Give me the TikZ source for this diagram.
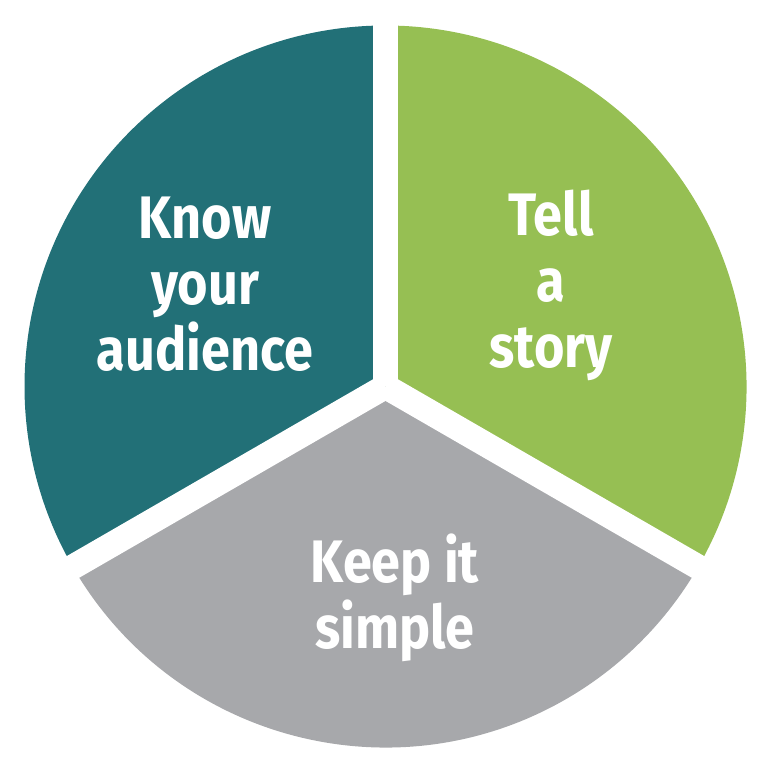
\documentclass[tikz,border=0pt]{standalone}
\usepackage{fontspec}
\setmainfont{Fira Sans}[FakeStretch=0.87]
\usetikzlibrary{calc}
\definecolor{PieTeal}{HTML}{227077}
\definecolor{PieGreen}{HTML}{96BF53}
\definecolor{PieGray}{HTML}{A7A8AB}

\begin{document}
\begin{tikzpicture}[x=1pt, y=1pt,
  label/.style={text=white, align=center, font=\bfseries\fontsize{60}{66}\selectfont},
  gap/.style={white, line width=25pt}
]
\useasboundingbox (0,0) rectangle (771,771);
\coordinate (o) at (385.5,384.5);
% sectors
\fill[PieTeal] (o) -- ++(90:361) arc[start angle=90, end angle=210, radius=361] -- cycle;
\fill[PieGray] (o) -- ++(210:361) arc[start angle=210, end angle=330, radius=361] -- cycle;
\fill[PieGreen] (o) -- ++(330:361) arc[start angle=-30, end angle=90, radius=361] -- cycle;
% white gaps
\coordinate (g1) at ($(o)+(90:380)$);
\coordinate (g2) at ($(o)+(210:380)$);
\coordinate (g3) at ($(o)+(330:380)$);
\draw[gap] (o) -- (g1);
\draw[gap] (o) -- (g2);
\draw[gap] (o) -- (g3);
% labels
\node[label] (know) at (205,487) {Know\\your\\audience};
\node[label] (tell) at (551,486) {Tell\\a\\story};
\node[label] (keep) at (395,173) {Keep it\\simple};
\end{tikzpicture}
\end{document}
